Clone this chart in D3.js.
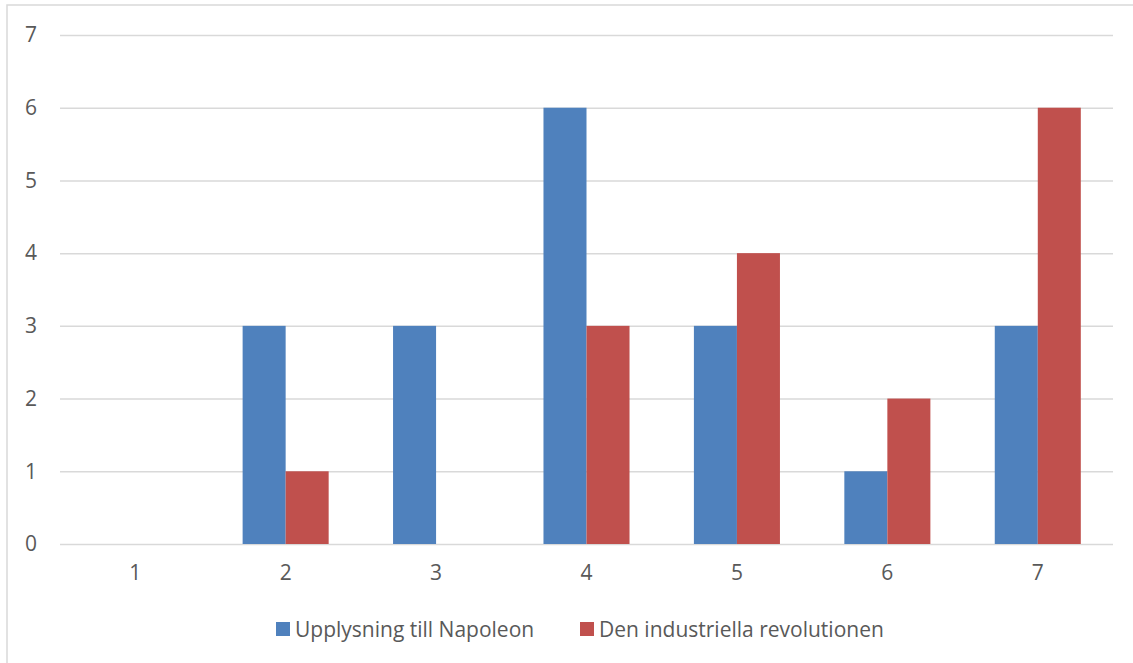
<!DOCTYPE html>
<html><head><meta charset="utf-8">
<script src="https://cdn.jsdelivr.net/npm/d3@7"></script>
<style>body{margin:0;background:#fff}svg{display:block}</style>
</head><body>
<svg id="c" width="1133" height="663"></svg>
<script>
const categories = ["1","2","3","4","5","6","7"];
const seriesNames = ["Upplysning till Napoleon","Den industriella revolutionen"];
const seriesA = [0,3,3,6,3,1,3];
const seriesB = [0,1,0,3,4,2,6];
const yTicks = [0,1,2,3,4,5,6,7];
const colors = ["#4f81bd","#c0504d"];

const svg = d3.select("#c");
const font = "'Open Sans', 'Liberation Sans', sans-serif";
const txt = "#595959";

svg.append("rect").attr("x",7).attr("y",5).attr("width",1140).attr("height",670)
  .attr("fill","#fff").attr("stroke","#d9d9d9").attr("stroke-width",1.5);

const x0 = d3.scaleBand().domain(categories).range([60,1113]).paddingInner(0.428).paddingOuter(0.214);
const x1 = d3.scaleBand().domain([0,1]).range([0,x0.bandwidth()]);
const y = d3.scaleLinear().domain([0,7]).range([544,35]);

const grid = svg.append("g").attr("transform","translate(60,0)")
  .call(d3.axisLeft(y).tickValues(yTicks).tickSize(-1053).tickFormat(""));
grid.select(".domain").remove();
grid.selectAll(".tick line").attr("stroke","#d9d9d9").attr("stroke-width",1.5);

const yAx = svg.append("g").attr("transform","translate(31,0)")
  .call(d3.axisLeft(y).tickValues(yTicks).tickSize(0).tickPadding(0).tickFormat(d3.format("d")));
yAx.select(".domain").remove();
yAx.selectAll("text").attr("fill",txt).attr("text-anchor","middle").attr("x",0)
  .style("font-family",font).style("font-size","21px");

const data = categories.map((c,i)=>({c, v:[seriesA[i],seriesB[i]]}));
const g = svg.append("g");
g.selectAll("g").data(data).join("g")
  .attr("transform",d=>`translate(${x0(d.c)},0)`)
  .selectAll("rect").data(d=>d.v.map((v,k)=>({v,k}))).join("rect")
  .attr("x",d=>x1(d.k)).attr("width",x1.bandwidth())
  .attr("y",d=>y(d.v)).attr("height",d=>y(0)-y(d.v))
  .attr("fill",d=>colors[d.k]);

const xAx = svg.append("g").attr("transform","translate(0,565)")
  .call(d3.axisBottom(x0).tickSize(0).tickPadding(0));
xAx.select(".domain").remove();
xAx.selectAll("text").attr("fill",txt).style("font-family",font).style("font-size","21px");

const legX = [276,580];
const leg = svg.append("g");
seriesNames.forEach((n,i)=>{
  leg.append("rect").attr("x",legX[i]).attr("y",622).attr("width",14).attr("height",14).attr("fill",colors[i]);
  leg.append("text").attr("x",legX[i]+19).attr("y",637).text(n)
    .attr("fill",txt).style("font-family",font).style("font-size","21px");
});
</script>
</body></html>
